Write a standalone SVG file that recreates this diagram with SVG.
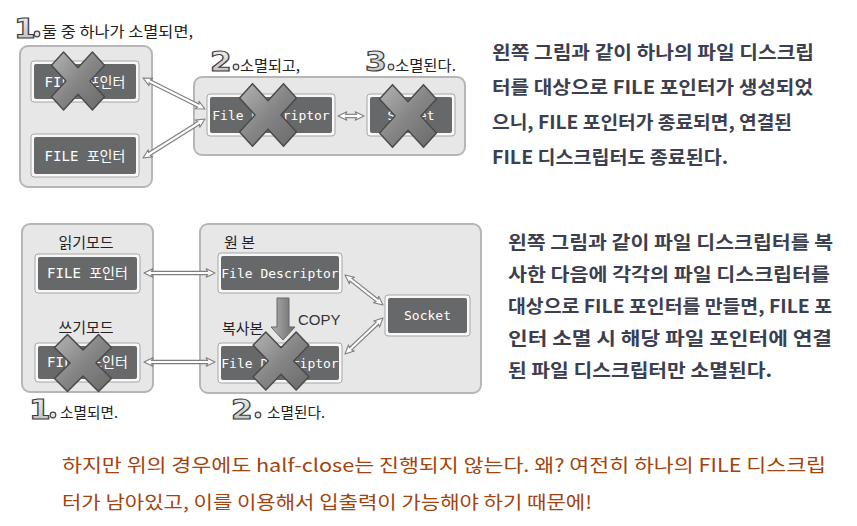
<svg xmlns="http://www.w3.org/2000/svg" xmlns:xlink="http://www.w3.org/1999/xlink" width="857" height="526" viewBox="0 0 857 526">
<style>
.ctr{fill:#e7e7e8;stroke:#b6b6b6;stroke-width:2}
.bo{fill:#f8f8f8;stroke:#a6a6a6;stroke-width:1}
.bi{fill:#676869}
.bt{font-family:"DejaVu Sans Mono","Noto Sans CJK KR",monospace;font-size:13px;fill:#fff;text-anchor:middle}
.bk{font-family:"DejaVu Sans Mono","Noto Sans CJK KR",monospace;font-size:14px;fill:#fff;text-anchor:middle}
.lbl{font-family:"Noto Sans CJK KR","Noto Sans",sans-serif;font-size:15px;fill:#222}
.para{font-family:"Noto Sans CJK KR","Noto Sans",sans-serif;font-size:18px;font-weight:bold;fill:#3b3f50}
.note{font-family:"Noto Sans CJK KR","Noto Sans",sans-serif;font-size:18px;fill:#a2440e}
.num{font-family:"DejaVu Sans",sans-serif;font-weight:bold;font-size:26px;fill:url(#ng);stroke:#3c3c3c;stroke-width:1.1}
.dot{fill:#e6e6e6;stroke:#444;stroke-width:1.2}
.xm{fill:url(#xg);stroke:#4a4a4a;stroke-width:1.5;stroke-linejoin:round}
.so{stroke:#7e7e7e;stroke-width:4.5;fill:none}
.si{stroke:#fff;stroke-width:2.2;fill:none}
.hd{stroke:none;fill:none;marker-start:url(#ah);marker-end:url(#ah)}
</style>
<defs>
<linearGradient id="xg" x1="0" y1="0" x2="1" y2="1">
<stop offset="0" stop-color="#b4b4b4"/><stop offset="0.5" stop-color="#858585"/><stop offset="1" stop-color="#6a6a6a"/>
</linearGradient>
<linearGradient id="ng" x1="0" y1="0" x2="0" y2="1">
<stop offset="0" stop-color="#f2f2f2"/><stop offset="1" stop-color="#b8b8b8"/>
</linearGradient>
<linearGradient id="cg" x1="0" y1="0" x2="1" y2="0">
<stop offset="0" stop-color="#b0b0b0"/><stop offset="1" stop-color="#6c6c6c"/>
</linearGradient>
<marker id="ah" viewBox="0 0 10 10" refX="9" refY="5" markerWidth="11" markerHeight="11" markerUnits="userSpaceOnUse" orient="auto-start-reverse">
<path d="M1,1.2 L9,5 L1,8.8 L2.8,5 Z" fill="#fff" stroke="#7e7e7e" stroke-width="1" stroke-linejoin="round"/>
</marker>
<path id="xp" d="M0,-12.7 L15.2,-27.9 L27.9,-15.2 L12.7,0 L27.9,15.2 L15.2,27.9 L0,12.7 L-15.2,27.9 L-27.9,15.2 L-12.7,0 L-27.9,-15.2 L-15.2,-27.9 Z"/>
</defs>

<rect width="857" height="526" fill="#fff"/>

<!-- containers -->
<g id="containers">
<rect class="ctr" x="20" y="46" width="132" height="141" rx="8"/>
<rect class="ctr" x="194" y="77" width="271" height="78" rx="8"/>
<rect class="ctr" x="22" y="224" width="131" height="168" rx="8"/>
<rect class="ctr" x="200" y="224" width="281" height="169" rx="8"/>
</g>

<!-- connectors -->
<g id="connectors">
<line class="so" x1="148" y1="80.5" x2="200" y2="106.5"/>
<line class="hd" x1="143" y1="78" x2="205" y2="109"/>
<line class="si" x1="148" y1="80.5" x2="200" y2="106.5"/>

<line class="so" x1="147.7" y1="155" x2="200.3" y2="122"/>
<line class="hd" x1="143" y1="158" x2="205" y2="119"/>
<line class="si" x1="147.7" y1="155" x2="200.3" y2="122"/>

<line class="so" x1="343.5" y1="116" x2="358.5" y2="116"/>
<line class="hd" x1="338" y1="116" x2="364" y2="116"/>
<line class="si" x1="343.5" y1="116" x2="358.5" y2="116"/>

<line class="so" x1="149.5" y1="273" x2="209.5" y2="273"/>
<line class="hd" x1="144" y1="273" x2="215" y2="273"/>
<line class="si" x1="149.5" y1="273" x2="209.5" y2="273"/>

<line class="so" x1="149.5" y1="362" x2="209.5" y2="362"/>
<line class="hd" x1="144" y1="362" x2="215" y2="362"/>
<line class="si" x1="149.5" y1="362" x2="209.5" y2="362"/>

<line class="so" x1="349.3" y1="278.4" x2="378.7" y2="301.6"/>
<line class="hd" x1="345" y1="275" x2="383" y2="305"/>
<line class="si" x1="349.3" y1="278.4" x2="378.7" y2="301.6"/>

<line class="so" x1="349" y1="350.2" x2="379" y2="321.8"/>
<line class="hd" x1="345" y1="354" x2="383" y2="318"/>
<line class="si" x1="349" y1="350.2" x2="379" y2="321.8"/>

<path id="copy-arrow" d="M277,298 H289 V327 H295 L283,340 L271,327 H277 Z" fill="url(#cg)" stroke="#666" stroke-width="1"/>
</g>

<!-- top section nodes -->
<g id="n-top-file1">
<rect class="bo" x="31" y="61" width="108" height="41" rx="3"/>
<rect class="bi" x="34" y="64" width="102" height="35" rx="2"/>
<text class="bk" x="85" y="86.5">FILE 포인터</text>
<use href="#xp" class="xm" transform="translate(78,81) scale(0.95,1.04)"/>
</g>
<g id="n-top-file2">
<rect class="bo" x="31" y="134" width="108" height="43" rx="3"/>
<rect class="bi" x="34" y="137" width="102" height="37" rx="2"/>
<text class="bk" x="85" y="160.5">FILE 포인터</text>
</g>
<g id="n-top-fd">
<rect class="bo" x="207" y="94" width="128" height="42" rx="3"/>
<rect class="bi" x="210" y="97" width="122" height="36" rx="2"/>
<text class="bt" x="271" y="119.5">File Descriptor</text>
<use href="#xp" class="xm" transform="translate(268,115) scale(1.02,1.12)"/>
</g>
<g id="n-top-socket">
<rect class="bo" x="367" y="94" width="88" height="42" rx="3"/>
<rect class="bi" x="370" y="97" width="82" height="36" rx="2"/>
<text class="bt" x="411" y="119.5">Socket</text>
<use href="#xp" class="xm" transform="translate(408,116) scale(1.02,1.12)"/>
</g>

<!-- bottom section nodes -->
<g id="n-bot-file1">
<rect class="bo" x="35" y="254" width="105" height="39" rx="3"/>
<rect class="bi" x="38" y="257" width="99" height="33" rx="2"/>
<text class="bk" x="87.5" y="278">FILE 포인터</text>
</g>
<g id="n-bot-file2">
<rect class="bo" x="35" y="343" width="105" height="39" rx="3"/>
<rect class="bi" x="38" y="346" width="99" height="33" rx="2"/>
<text class="bk" x="87.5" y="367">FILE 포인터</text>
<use href="#xp" class="xm" transform="translate(83,363) scale(1.02,1.02)"/>
</g>
<g id="n-bot-fd1">
<rect class="bo" x="218" y="253" width="124" height="40" rx="3"/>
<rect class="bi" x="221" y="256" width="118" height="34" rx="2"/>
<text class="bt" x="280" y="277.5">File Descriptor</text>
</g>
<g id="n-bot-fd2">
<rect class="bo" x="218" y="343" width="124" height="40" rx="3"/>
<rect class="bi" x="221" y="346" width="118" height="34" rx="2"/>
<text class="bt" x="280" y="367.5">File Descriptor</text>
<use href="#xp" class="xm" transform="translate(281,361) scale(1,1.04)"/>
</g>
<g id="n-bot-socket">
<rect class="bo" x="385" y="295" width="85" height="41" rx="3"/>
<rect class="bi" x="388" y="298" width="79" height="35" rx="2"/>
<text class="bt" x="427.5" y="320">Socket</text>
</g>

<!-- labels -->
<g id="labels">
<text class="num" transform="translate(14,38) scale(1.2,1)">1</text><circle class="dot" cx="37" cy="34" r="2.8"/>
<text class="lbl" x="42" y="36.5" font-size="15.5" textLength="151" lengthAdjust="spacingAndGlyphs">둘 중 하나가 소멸되면,</text>
<text class="num" transform="translate(210,71) scale(1.2,1)">2</text><circle class="dot" cx="236" cy="67" r="2.8"/>
<text class="lbl" x="240" y="71" textLength="60" lengthAdjust="spacingAndGlyphs">소멸되고,</text>
<text class="num" transform="translate(365,71) scale(1.2,1)">3</text><circle class="dot" cx="391" cy="67" r="2.8"/>
<text class="lbl" x="395" y="71" textLength="61" lengthAdjust="spacingAndGlyphs">소멸된다.</text>

<text class="lbl" x="86" y="247.5" text-anchor="middle">읽기모드</text>
<text class="lbl" x="86" y="333" text-anchor="middle">쓰기모드</text>
<text class="lbl" x="224" y="248">원 본</text>
<text class="lbl" x="222" y="334">복사본</text>
<text x="298" y="325" font-family="Liberation Sans, Arial, sans-serif" font-size="15" fill="#333">COPY</text>

<text class="num" transform="translate(29,419) scale(1.2,1)">1</text><circle class="dot" cx="53" cy="415" r="2.8"/>
<text class="lbl" x="60" y="418" textLength="58" lengthAdjust="spacingAndGlyphs">소멸되면.</text>
<text class="num" transform="translate(231,419) scale(1.2,1)">2</text><circle class="dot" cx="258" cy="415" r="2.8"/>
<text class="lbl" x="267" y="418" textLength="58" lengthAdjust="spacingAndGlyphs">소멸된다.</text>
</g>

<!-- paragraphs -->
<g id="para1" class="para">
<text x="492" y="59" textLength="322" lengthAdjust="spacingAndGlyphs">왼쪽 그림과 같이 하나의 파일 디스크립</text>
<text x="492" y="94" textLength="321" lengthAdjust="spacingAndGlyphs">터를 대상으로 FILE 포인터가 생성되었</text>
<text x="492" y="129" textLength="300" lengthAdjust="spacingAndGlyphs">으니, FILE 포인터가 종료되면, 연결된</text>
<text x="492" y="164" textLength="236" lengthAdjust="spacingAndGlyphs">FILE 디스크립터도 종료된다.</text>
</g>
<g id="para2" class="para">
<text x="508" y="249" textLength="325" lengthAdjust="spacingAndGlyphs">왼쪽 그림과 같이 파일 디스크립터를 복</text>
<text x="508" y="281" textLength="322" lengthAdjust="spacingAndGlyphs">사한 다음에 각각의 파일 디스크립터를</text>
<text x="508" y="313" textLength="324" lengthAdjust="spacingAndGlyphs">대상으로 FILE 포인터를 만들면, FILE 포</text>
<text x="508" y="345" textLength="324" lengthAdjust="spacingAndGlyphs">인터 소멸 시 해당 파일 포인터에 연결</text>
<text x="508" y="377" textLength="264" lengthAdjust="spacingAndGlyphs">된 파일 디스크립터만 소멸된다.</text>
</g>

<g id="note" class="note">
<text x="62" y="472" textLength="764" lengthAdjust="spacingAndGlyphs">하지만 위의 경우에도 half-close는 진행되지 않는다. 왜? 여전히 하나의 FILE 디스크립</text>
<text x="62" y="509" textLength="530" lengthAdjust="spacingAndGlyphs">터가 남아있고, 이를 이용해서 입출력이 가능해야 하기 때문에!</text>
</g>
</svg>
